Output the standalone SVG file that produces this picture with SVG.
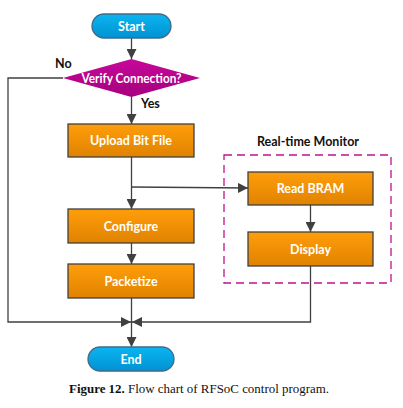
<svg xmlns="http://www.w3.org/2000/svg" width="403" height="408" viewBox="0 0 403 408">
<defs>
<linearGradient id="gOr" x1="0" y1="0" x2="0" y2="1"><stop offset="0" stop-color="#FF9E0A"/><stop offset="1" stop-color="#E08200"/></linearGradient>
<linearGradient id="gBl" x1="0" y1="0" x2="0" y2="1"><stop offset="0" stop-color="#0BB5F0"/><stop offset="1" stop-color="#0092D2"/></linearGradient>
<linearGradient id="gMg" x1="0" y1="0" x2="0" y2="1"><stop offset="0" stop-color="#C8079A"/><stop offset="1" stop-color="#A5007E"/></linearGradient>
<marker id="ah" viewBox="0 0 10 10" refX="10" refY="5" markerWidth="10" markerHeight="10" markerUnits="userSpaceOnUse" orient="auto"><path d="M0,0 L10,5 L0,10 z" fill="#404040"/></marker>
</defs>
<style>
.proc{fill:url(#gOr);stroke:#404040;stroke-width:1.3}
.term{fill:url(#gBl);stroke:#3F6B8C;stroke-width:1.3}
.dec{fill:url(#gMg);stroke:none}
.lbl{font-family:Lato,"Liberation Sans",sans-serif;font-weight:bold;font-size:12.5px;fill:#ffffff;text-anchor:middle}
.note{font-family:Lato,"Liberation Sans",sans-serif;font-weight:bold;font-size:12.5px;fill:#111111}
.c{fill:none;stroke:#404040;stroke-width:1.3}
</style>
<g id="connectors">
<line class="c" x1="131.5" y1="38" x2="131.5" y2="59" marker-end="url(#ah)"/>
<line class="c" x1="131.5" y1="97" x2="131.5" y2="124" marker-end="url(#ah)"/>
<polyline class="c" points="63,78 8,78 8,322 131,322" marker-end="url(#ah)"/>
<line class="c" x1="131.5" y1="157" x2="131.5" y2="209" marker-end="url(#ah)"/>
<polyline class="c" points="131.5,187 248,188" marker-end="url(#ah)"/>
<line class="c" x1="131.5" y1="243" x2="131.5" y2="264" marker-end="url(#ah)"/>
<line class="c" x1="310.5" y1="205" x2="310.5" y2="232" marker-end="url(#ah)"/>
<polyline class="c" points="310.5,266 310.5,322 132,322" marker-end="url(#ah)"/>
<line class="c" x1="131.5" y1="298" x2="131.5" y2="347" marker-end="url(#ah)"/>
</g>
<g id="monitor">
<rect x="224" y="155" width="167" height="128" fill="none" stroke="#C0128F" stroke-width="1.3" stroke-dasharray="8,5"/>
<text class="note" x="308" y="146" text-anchor="middle" font-weight="normal">Real-time Monitor</text>
</g>
<g id="start">
<rect class="term" x="92" y="14" width="79" height="24" rx="12"/>
<text class="lbl" x="131.5" y="30.5">Start</text>
</g>
<g id="verify">
<polygon class="dec" points="131.5,59 200,78 131.5,97 63,78"/>
<text class="lbl" x="131.5" y="82.5" font-size="12px" textLength="100" lengthAdjust="spacingAndGlyphs">Verify Connection?</text>
<text class="note" x="55" y="68">No</text>
<text class="note" x="141" y="108">Yes</text>
</g>
<g id="upload">
<rect class="proc" x="68" y="124" width="126" height="33"/>
<text class="lbl" x="131" y="145">Upload Bit File</text>
</g>
<g id="readbram">
<rect class="proc" x="248" y="172" width="125" height="33"/>
<text class="lbl" x="310.5" y="193">Read BRAM</text>
</g>
<g id="display">
<rect class="proc" x="248" y="232" width="125" height="34"/>
<text class="lbl" x="310.5" y="253.5">Display</text>
</g>
<g id="configure">
<rect class="proc" x="68" y="209" width="126" height="34"/>
<text class="lbl" x="131" y="230.5">Configure</text>
</g>
<g id="packetize">
<rect class="proc" x="68" y="264" width="126" height="34"/>
<text class="lbl" x="131" y="285.5">Packetize</text>
</g>
<g id="end">
<rect class="term" x="88" y="347" width="86" height="24" rx="12"/>
<text class="lbl" x="131" y="363.5">End</text>
</g>
<text x="69" y="393" font-family="'Liberation Serif',serif" font-size="13px" fill="#111111" textLength="260" lengthAdjust="spacingAndGlyphs"><tspan font-weight="bold">Figure 12.</tspan> Flow chart of RFSoC control program.</text>
</svg>
